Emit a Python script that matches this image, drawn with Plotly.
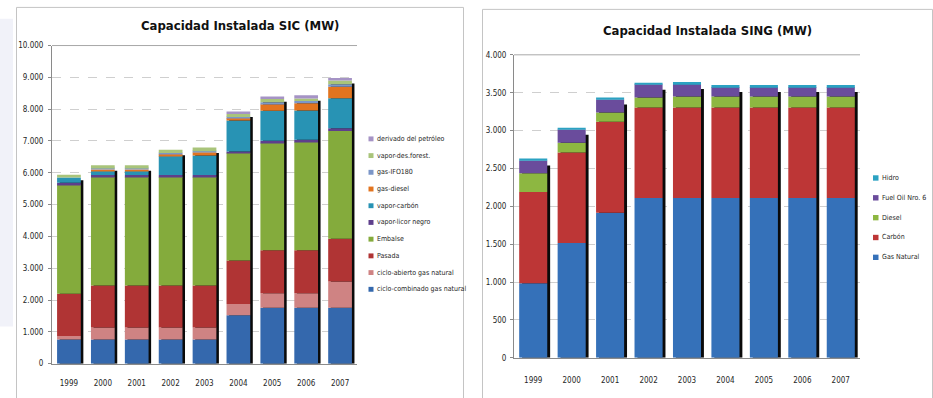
import numpy as np
import plotly.graph_objects as go

# ---- data -------------------------------------------------------------
years = ["1999", "2000", "2001", "2002", "2003", "2004", "2005", "2006", "2007"]

# SIC installed capacity by technology (MW), bottom to top of the stack
sic_names = [
    "ciclo-combinado gas natural",
    "ciclo-abierto gas natural",
    "Pasada",
    "Embalse",
    "vapor-licor negro",
    "vapor-carbón",
    "gas-diesel",
    "gas-IFO180",
    "vapor-des.forest.",
    "derivado del petróleo",
]
sic_cc = [760, 760, 760, 760, 760, 1520, 1760, 1760, 1760]
sic_ca = [110, 375, 375, 375, 375, 355, 450, 450, 820]
sic_pasada = [1330, 1320, 1320, 1320, 1320, 1365, 1355, 1355, 1345]
sic_embalse = [3430, 3420, 3420, 3420, 3420, 3390, 3380, 3410, 3390]
sic_licor = [60, 55, 55, 55, 55, 40, 60, 60, 85]
sic_carbon = [165, 125, 125, 605, 615, 975, 945, 925, 945]
sic_diesel = [0, 50, 50, 60, 100, 80, 205, 225, 360]
sic_ifo = [0, 30, 30, 30, 30, 30, 60, 70, 80]
sic_desforest = [80, 100, 100, 100, 120, 90, 105, 80, 115]
sic_derivado = [0, 0, 0, 0, 0, 80, 80, 100, 80]
sic_series = [sic_cc, sic_ca, sic_pasada, sic_embalse, sic_licor,
              sic_carbon, sic_diesel, sic_ifo, sic_desforest, sic_derivado]
sic_colors = ["#3468ad", "#cf8383", "#b03434", "#84ab3c", "#5e3f8c",
              "#2893b4", "#e2741f", "#7b96c8", "#a9c47a", "#a593c5"]

# SING installed capacity by fuel (MW), bottom to top of the stack
sing_names = ["Gas Natural", "Carbón", "Diesel", "Fuel Oil Nro. 6", "Hidro"]
sing_gas = [985, 1515, 1915, 2110, 2110, 2110, 2110, 2110, 2110]
sing_carbon = [1205, 1195, 1200, 1195, 1195, 1195, 1195, 1195, 1195]
sing_diesel = [245, 130, 125, 130, 145, 145, 145, 145, 145]
sing_fueloil = [170, 175, 170, 175, 165, 125, 125, 125, 125]
sing_hidro = [25, 20, 25, 20, 25, 25, 25, 25, 25]
sing_series = [sing_gas, sing_carbon, sing_diesel, sing_fueloil, sing_hidro]
sing_colors = ["#3571b9", "#bd3636", "#8db741", "#6a4c9c", "#2ba2c2"]

# ---- page geometry (pixels -> paper) ----------------------------------
W, H = 933, 398
FONT = "Liberation Sans Narrow, DejaVu Sans Condensed, Arial Narrow, Liberation Sans, Arial, sans-serif"
TXT = "#262626"


def px(x):
    return x / W


def py(y):
    return 1 - y / H


fig = go.Figure()


def add_stack(series, names, colors, xa, ya, width, shadow_dx, shadow_drop):
    data = np.array(series, dtype=float)
    bases = np.vstack([np.zeros(data.shape[1]), np.cumsum(data, axis=0)[:-1]])
    totals = data.sum(axis=0)
    # dark drop shadow on the right-hand side of each column
    fig.add_trace(go.Bar(
        x=years, y=totals - shadow_drop, base=0, xaxis=xa, yaxis=ya,
        width=width, offset=-width / 2 + shadow_dx,
        marker=dict(color="#0a0a0a", line=dict(width=0)),
        showlegend=False, hoverinfo="skip",
    ))
    for vals, base, name, col in zip(data, bases, names, colors):
        fig.add_trace(go.Bar(
            x=years, y=vals, base=base, name=name, xaxis=xa, yaxis=ya,
            width=width, offset=-width / 2,
            marker=dict(color=col, line=dict(width=0)),
            showlegend=False,
        ))


add_stack(sic_series, sic_names, sic_colors, "x", "y", 0.70, 0.075, 170)
add_stack(sing_series, sing_names, sing_colors, "x2", "y2", 0.73, 0.075, 90)

axis_common = dict(
    showline=True, linecolor="#8a8a8a", linewidth=1,
    tickfont=dict(family=FONT, size=8, color=TXT),
)
fig.update_layout(
    width=W, height=H,
    margin=dict(l=0, r=0, t=0, b=0),
    paper_bgcolor="white", plot_bgcolor="white",
    barmode="overlay", separators=",.",
    showlegend=False,
    xaxis=dict(domain=[px(52), px(357)], anchor="y", type="category",
               categoryorder="array", categoryarray=years, range=[-0.5, 8.5],
               ticks="", ticklabelstandoff=12, showgrid=False, **axis_common),
    yaxis=dict(domain=[py(368), py(42.5)], anchor="x", range=[0, 10000],
               dtick=1000, tickformat=",d", ticks="outside", ticklen=3,
               ticklabelstandoff=3,
               tickcolor="#8a8a8a", showgrid=True, gridcolor="#cfcfcf",
               griddash="dash", gridwidth=1, zeroline=False, **axis_common),
    xaxis2=dict(domain=[px(514), px(860)], anchor="y2", type="category",
                categoryorder="array", categoryarray=years, range=[-0.5, 8.5],
                ticks="", ticklabelstandoff=15, showgrid=False, **axis_common),
    yaxis2=dict(domain=[py(362), py(52)], anchor="x2", range=[0, 4000],
                dtick=500, tickformat=",d", ticks="outside", ticklen=3,
                ticklabelstandoff=2,
                tickcolor="#8a8a8a", showgrid=True, gridcolor="#cfcfcf",
                griddash="dash", gridwidth=1, zeroline=False, **axis_common),
)

shapes = [
    # faint backdrop graphic at the page edge
    dict(type="rect", xref="paper", yref="paper", x0=0, x1=px(13),
         y0=py(330), y1=py(15), fillcolor="#f1f2f9", line=dict(width=0),
         layer="below"),
    # chart frames
    dict(type="rect", xref="paper", yref="paper", x0=px(16.5), x1=px(463.5),
         y0=-0.02, y1=py(3.5), line=dict(color="#c4c4c4", width=1)),
    dict(type="rect", xref="paper", yref="paper", x0=px(482.5), x1=px(932.5),
         y0=-0.02, y1=py(5.5), line=dict(color="#c4c4c4", width=1)),
    # solid line closing the top of each plot area
    dict(type="line", xref="x domain", yref="y domain", x0=0, x1=1, y0=1, y1=1,
         line=dict(color="#a8a8a8", width=1)),
    dict(type="line", xref="x2 domain", yref="y2 domain", x0=0, x1=1, y0=1, y1=1,
         line=dict(color="#a8a8a8", width=1)),
]

annotations = [
    dict(text="<b>Capacidad Instalada SIC (MW)</b>", xref="paper", yref="paper",
         x=px(240), y=py(22), showarrow=False, xanchor="center", yanchor="middle",
         font=dict(family=FONT, size=13, color="#111111")),
    dict(text="<b>Capacidad Instalada SING (MW)</b>", xref="paper", yref="paper",
         x=px(707), y=py(27), showarrow=False, xanchor="center", yanchor="middle",
         font=dict(family=FONT, size=13, color="#111111")),
]


def add_legend(names, colors, x_sw, y_top, step, size, fsize):
    # entries listed top-down in reverse stacking order
    for i, (name, col) in enumerate(zip(names[::-1], colors[::-1])):
        yc = y_top + i * step
        shapes.append(dict(type="rect", xref="paper", yref="paper",
                           x0=px(x_sw), x1=px(x_sw + size),
                           y0=py(yc + size / 2), y1=py(yc - size / 2),
                           fillcolor=col, line=dict(width=0)))
        annotations.append(dict(text=name, xref="paper", yref="paper",
                                x=px(x_sw + size + 1), y=py(yc),
                                showarrow=False, xanchor="left", yanchor="middle",
                                font=dict(family=FONT, size=fsize, color=TXT)))


add_legend(sic_names, sic_colors, 368.5, 138, 17.1, 5, 7)
add_legend(sing_names, sing_colors, 873, 178, 20.3, 5.5, 7)

fig.update_layout(shapes=shapes, annotations=annotations)
fig.write_html("out.html")
